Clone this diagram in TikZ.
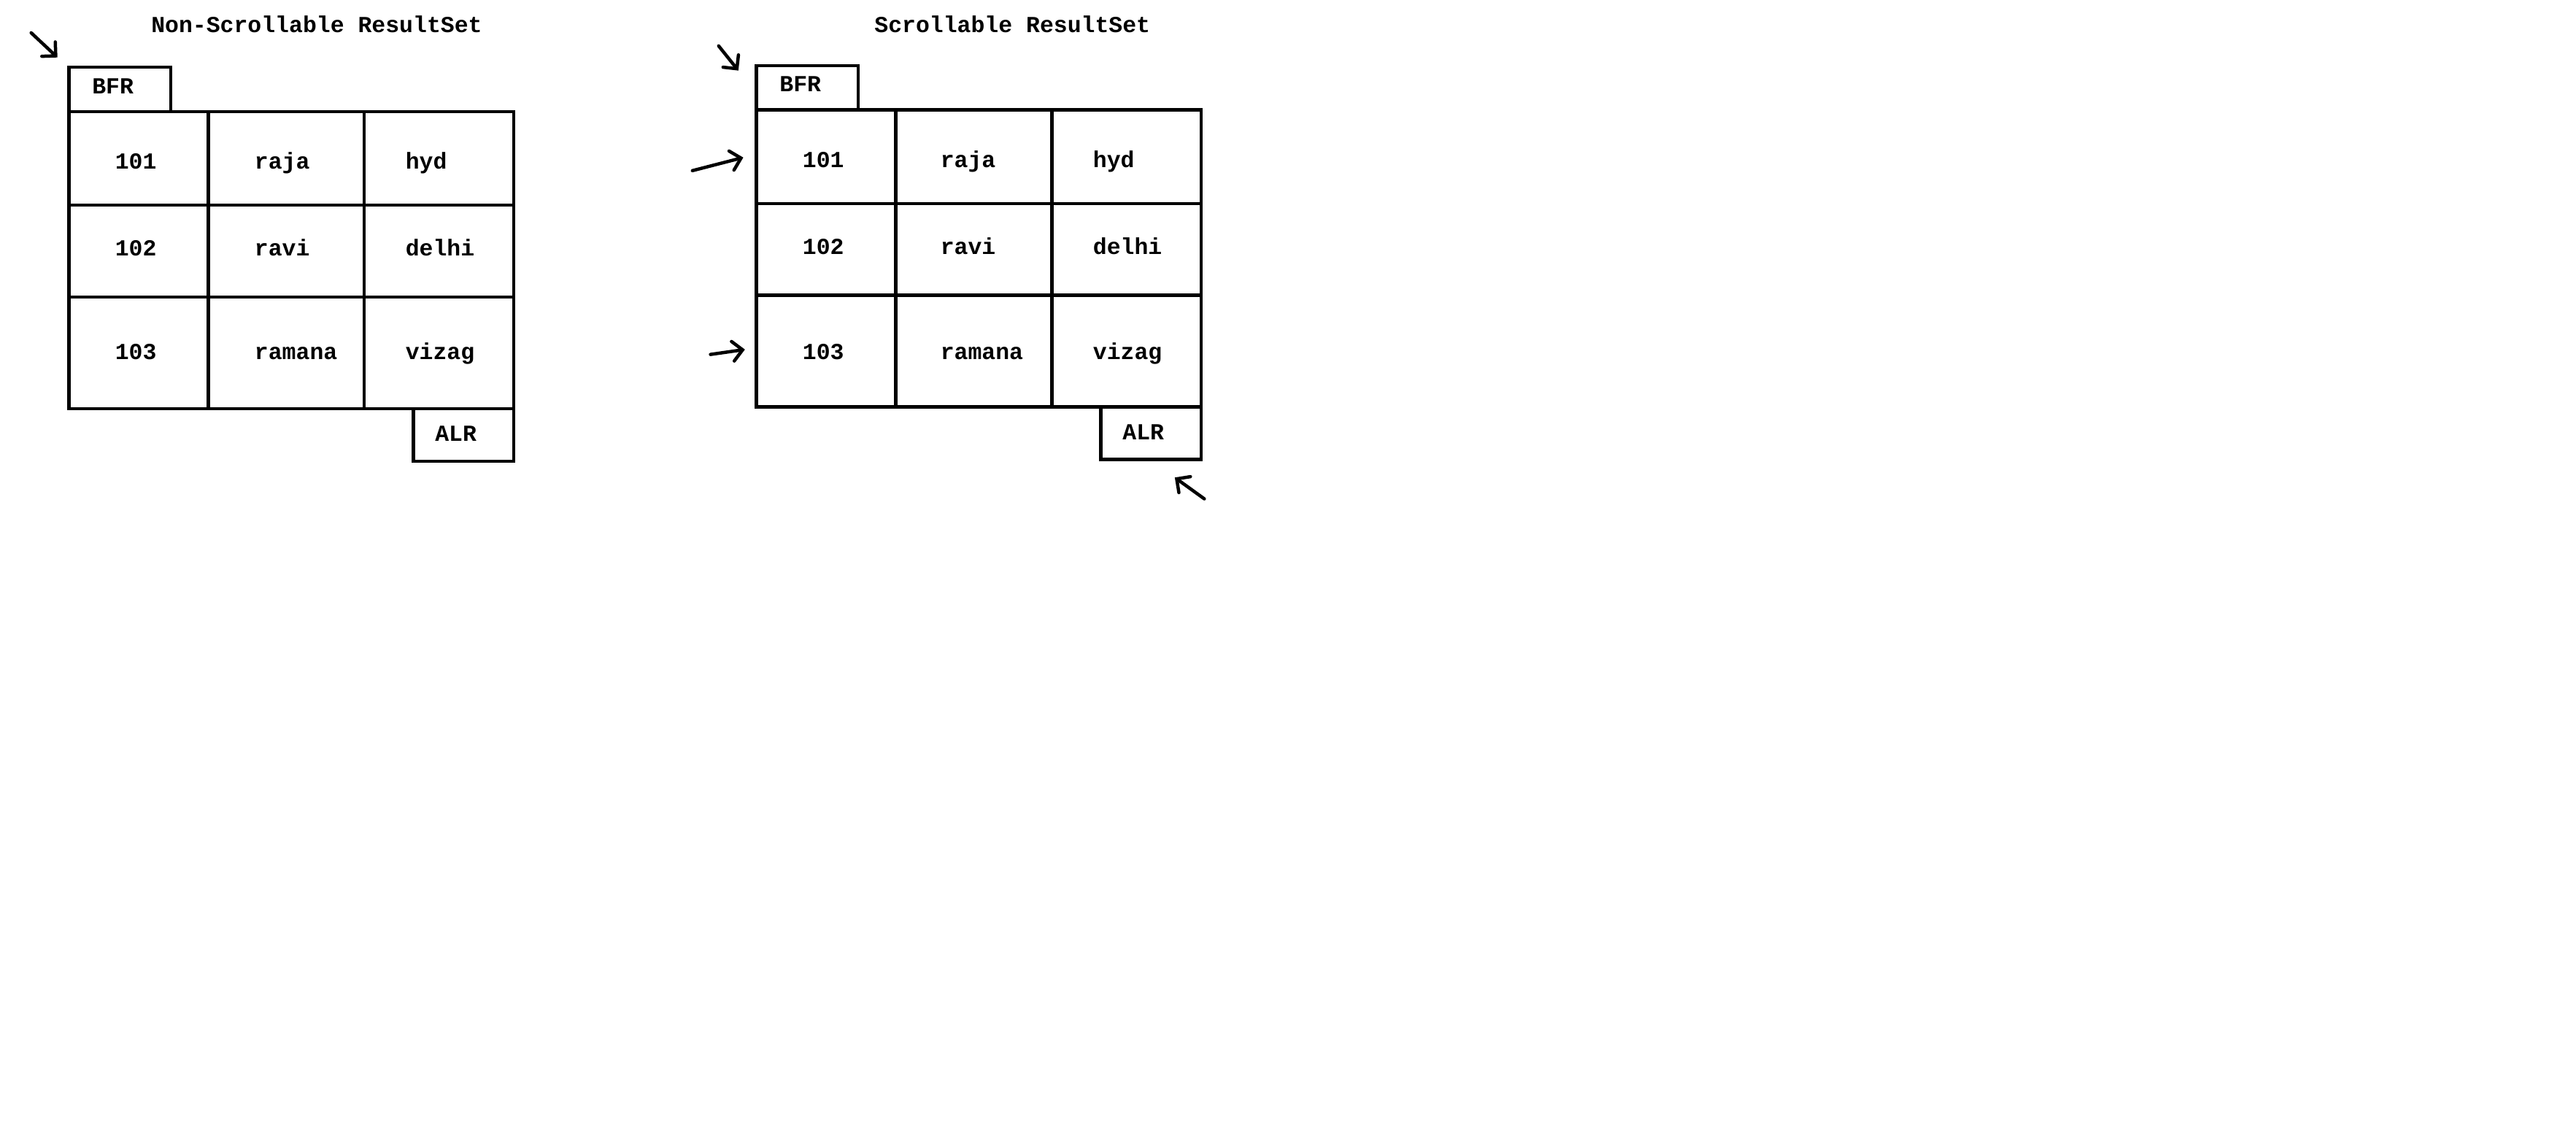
\documentclass[tikz,border=0pt]{standalone}
\usepackage{fontspec}
\setmonofont{Liberation Mono}
\usetikzlibrary{arrows.meta}
\begin{document}
\begin{tikzpicture}[x=1pt,y=-1pt,
  cell/.style={draw,line width=2pt,rectangle,inner sep=0pt,anchor=north west},
  lbl/.style={font=\ttfamily\bfseries\fontsize{14}{16}\selectfont,inner sep=0pt,anchor=base west},
  ttl/.style={font=\ttfamily\bfseries\fontsize{14}{16}\selectfont,inner sep=0pt,anchor=base},
  arr/.style={line width=2pt,line cap=round,-{Straight Barb[length=6pt,width=12pt,line cap=round]}},
]
\useasboundingbox[fill=white] (0,0) rectangle (1570,694.7);

% ---------- Left: Non-Scrollable ----------
\node[ttl] (tL) at (193,20) {Non-Scrollable ResultSet};
\node[cell,minimum width=62pt,minimum height=27pt] (bfrL) at (41,40) {};
\node[cell,minimum width=85pt,minimum height=57pt] (L11) at (41,67) {};
\node[cell,minimum width=95pt,minimum height=57pt] (L12) at (126,67) {};
\node[cell,minimum width=91pt,minimum height=57pt] (L13) at (221,67) {};
\node[cell,minimum width=85pt,minimum height=56pt] (L21) at (41,124) {};
\node[cell,minimum width=95pt,minimum height=56pt] (L22) at (126,124) {};
\node[cell,minimum width=91pt,minimum height=56pt] (L23) at (221,124) {};
\node[cell,minimum width=85pt,minimum height=68pt] (L31) at (41,180) {};
\node[cell,minimum width=95pt,minimum height=68pt] (L32) at (126,180) {};
\node[cell,minimum width=91pt,minimum height=68pt] (L33) at (221,180) {};
\node[cell,minimum width=61pt,minimum height=32pt] (alrL) at (251,248) {};

\node[lbl] (tbfrL) at (56,57) {BFR};
\node[lbl] (t11L) at (70,103) {101};
\node[lbl] (t12L) at (155,103) {raja};
\node[lbl] (t13L) at (247,103) {hyd};
\node[lbl] (t21L) at (70,156) {102};
\node[lbl] (t22L) at (155,156) {ravi};
\node[lbl] (t23L) at (247,156) {delhi};
\node[lbl] (t31L) at (70,219) {103};
\node[lbl] (t32L) at (155,219) {ramana};
\node[lbl] (t33L) at (247,219) {vizag};
\node[lbl] (talrL) at (265,269) {ALR};

\coordinate (aLs) at (19,20);
\coordinate (aLe) at (35,35);
\draw[arr] (aLs) -- (aLe);

% ---------- Right: Scrollable ----------
\node[ttl] (tR) at (617,20) {Scrollable ResultSet};
\node[cell,minimum width=62pt,minimum height=27pt] (bfrR) at (460,39) {};
\node[cell,minimum width=85pt,minimum height=57pt] (R11) at (460,66) {};
\node[cell,minimum width=95pt,minimum height=57pt] (R12) at (545,66) {};
\node[cell,minimum width=91pt,minimum height=57pt] (R13) at (640,66) {};
\node[cell,minimum width=85pt,minimum height=56pt] (R21) at (460,123) {};
\node[cell,minimum width=95pt,minimum height=56pt] (R22) at (545,123) {};
\node[cell,minimum width=91pt,minimum height=56pt] (R23) at (640,123) {};
\node[cell,minimum width=85pt,minimum height=68pt] (R31) at (460,179) {};
\node[cell,minimum width=95pt,minimum height=68pt] (R32) at (545,179) {};
\node[cell,minimum width=91pt,minimum height=68pt] (R33) at (640,179) {};
\node[cell,minimum width=61pt,minimum height=32pt] (alrR) at (670,247) {};

\node[lbl] (tbfrR) at (475,56) {BFR};
\node[lbl] (t11R) at (489,102) {101};
\node[lbl] (t12R) at (573,102) {raja};
\node[lbl] (t13R) at (666,102) {hyd};
\node[lbl] (t21R) at (489,155) {102};
\node[lbl] (t22R) at (573,155) {ravi};
\node[lbl] (t23R) at (666,155) {delhi};
\node[lbl] (t31R) at (489,219) {103};
\node[lbl] (t32R) at (573,219) {ramana};
\node[lbl] (t33R) at (666,219) {vizag};
\node[lbl] (talrR) at (684,268) {ALR};

\coordinate (aR1s) at (438,28);
\coordinate (aR1e) at (450,43);
\coordinate (aR2s) at (422,104);
\coordinate (aR2e) at (453,96);
\coordinate (aR3s) at (433,216);
\coordinate (aR3e) at (454,213);
\coordinate (aR4s) at (734,304);
\coordinate (aR4e) at (716,291);
\draw[arr] (aR1s) -- (aR1e);
\draw[arr] (aR2s) -- (aR2e);
\draw[arr] (aR3s) -- (aR3e);
\draw[arr] (aR4s) -- (aR4e);
\end{tikzpicture}
\end{document}
